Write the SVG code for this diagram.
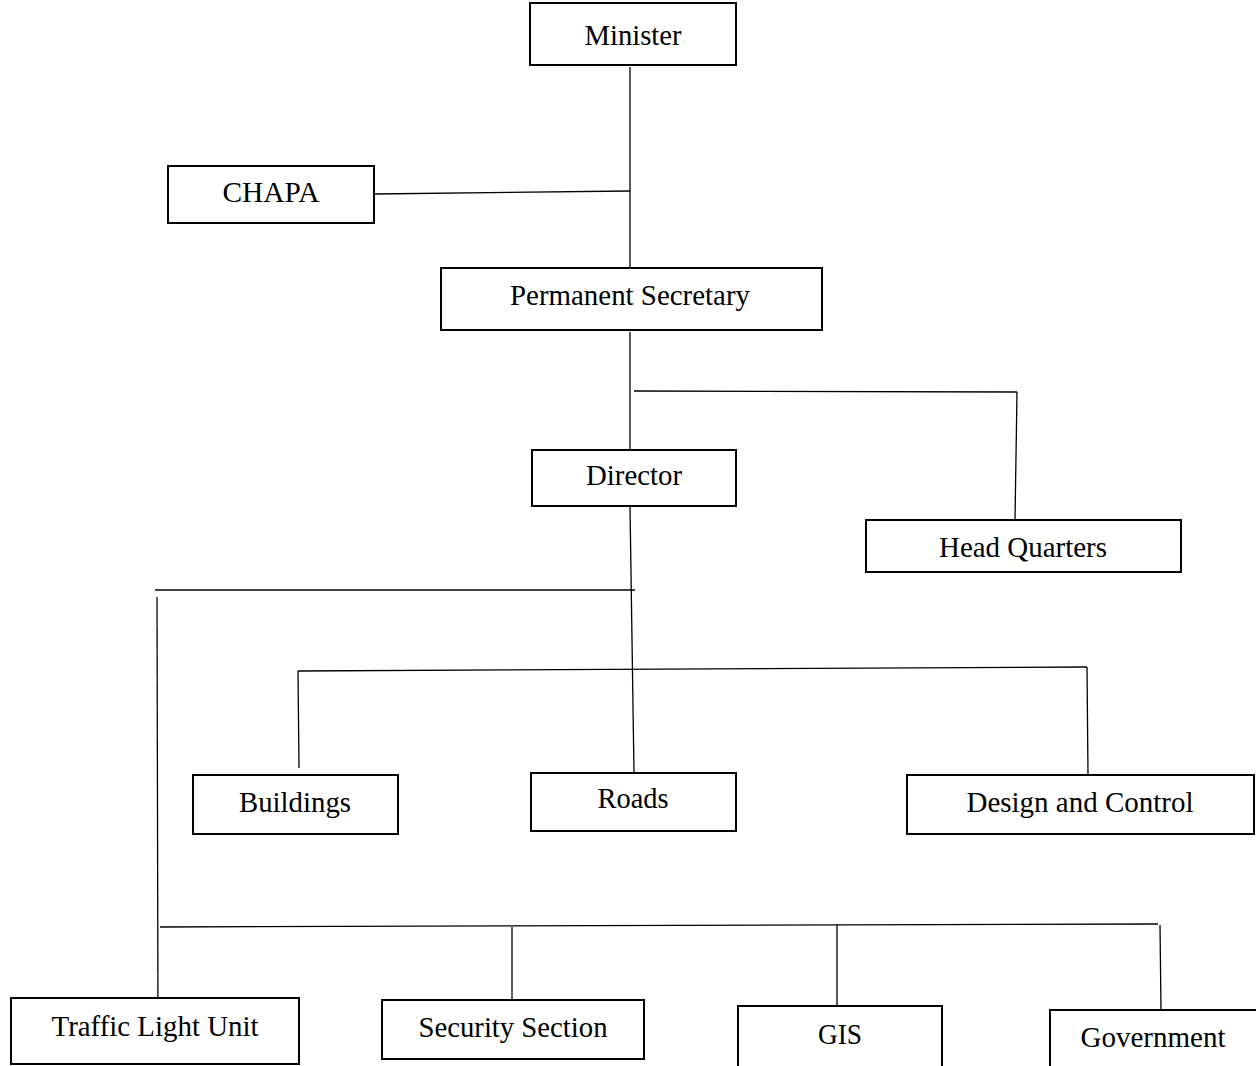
<svg xmlns="http://www.w3.org/2000/svg" width="1256" height="1066" viewBox="0 0 1256 1066">
<style>
.box{fill:#fff;stroke:#000;stroke-width:2}
.lbl{font-family:"Liberation Serif","Times New Roman",serif;font-size:29.5px;fill:#000;text-anchor:middle}
.ln{stroke:#000;stroke-width:1.3;fill:none}
</style>
<rect width="1256" height="1066" fill="#fff"/>
<g id="connectors">
<line class="ln" x1="630" y1="67" x2="630" y2="268"/>
<line class="ln" x1="374" y1="194" x2="630" y2="191"/>
<line class="ln" x1="630" y1="332" x2="630" y2="450"/>
<line class="ln" x1="634" y1="391" x2="1017" y2="392"/>
<line class="ln" x1="1017" y1="392" x2="1015" y2="520"/>
<line class="ln" x1="630" y1="506" x2="634" y2="773"/>
<line class="ln" x1="155" y1="590" x2="635" y2="590"/>
<line class="ln" x1="157" y1="597" x2="158" y2="1027"/>
<line class="ln" x1="298" y1="671" x2="1087" y2="667"/>
<line class="ln" x1="298" y1="671" x2="299" y2="768"/>
<line class="ln" x1="1087" y1="667" x2="1088" y2="775"/>
<line class="ln" x1="160" y1="927" x2="1158" y2="924"/>
<line class="ln" x1="512" y1="927" x2="512" y2="1000"/>
<line class="ln" x1="837" y1="925" x2="837" y2="1006"/>
<line class="ln" x1="1160" y1="925" x2="1161" y2="1010"/>
</g>
<g id="minister"><rect class="box" x="530" y="3" width="206" height="62"/><text class="lbl" x="633" y="45" textLength="97" lengthAdjust="spacingAndGlyphs">Minister</text></g>
<g id="chapa"><rect class="box" x="168" y="166" width="206" height="57"/><text class="lbl" x="271" y="202" textLength="97" lengthAdjust="spacingAndGlyphs">CHAPA</text></g>
<g id="permanent-secretary"><rect class="box" x="441" y="268" width="381" height="62"/><text class="lbl" x="630" y="305" textLength="240" lengthAdjust="spacingAndGlyphs">Permanent Secretary</text></g>
<g id="director"><rect class="box" x="532" y="450" width="204" height="56"/><text class="lbl" x="634" y="485" textLength="96" lengthAdjust="spacingAndGlyphs">Director</text></g>
<g id="head-quarters"><rect class="box" x="866" y="520" width="315" height="52"/><text class="lbl" x="1023" y="557" textLength="168" lengthAdjust="spacingAndGlyphs">Head Quarters</text></g>
<g id="buildings"><rect class="box" x="193" y="775" width="205" height="59"/><text class="lbl" x="295" y="812" textLength="112" lengthAdjust="spacingAndGlyphs">Buildings</text></g>
<g id="roads"><rect class="box" x="531" y="773" width="205" height="58"/><text class="lbl" x="633" y="808" textLength="71" lengthAdjust="spacingAndGlyphs">Roads</text></g>
<g id="design-and-control"><rect class="box" x="907" y="775" width="347" height="59"/><text class="lbl" x="1080" y="812" textLength="227" lengthAdjust="spacingAndGlyphs">Design and Control</text></g>
<g id="traffic-light-unit"><rect class="box" x="11" y="998" width="288" height="66"/><text class="lbl" x="155" y="1036" textLength="207" lengthAdjust="spacingAndGlyphs">Traffic Light Unit</text></g>
<g id="security-section"><rect class="box" x="382" y="1000" width="262" height="59"/><text class="lbl" x="513" y="1037" textLength="189" lengthAdjust="spacingAndGlyphs">Security Section</text></g>
<g id="gis"><rect class="box" x="738" y="1006" width="204" height="62"/><text class="lbl" x="840" y="1044" textLength="44" lengthAdjust="spacingAndGlyphs">GIS</text></g>
<g id="government"><rect class="box" x="1050" y="1010" width="210" height="60"/><text class="lbl" x="1153" y="1047" textLength="145" lengthAdjust="spacingAndGlyphs">Government</text></g>
</svg>
